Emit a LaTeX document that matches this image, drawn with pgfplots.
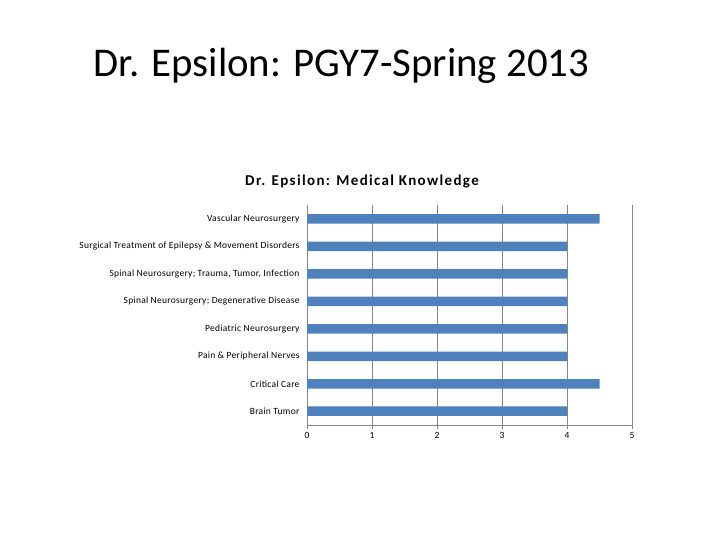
\documentclass[border=0pt]{standalone}
\usepackage{pgfplots}
\pgfplotsset{compat=1.18}
\usepackage{fontspec}
\setmainfont{Carlito}
\definecolor{barblue}{HTML}{4F81BD}
\definecolor{gridgray}{HTML}{868686}
\begin{document}
\begin{tikzpicture}
\useasboundingbox (0bp,0bp) rectangle (720bp,540bp);
\node[anchor=base, inner sep=0pt, font=\fontsize{40.8bp}{42bp}\selectfont] at (341.5bp,463bp) {Dr. Epsilon: PGY7-Spring 2013};
\node[anchor=base, inner sep=0pt, font=\fontsize{15bp}{17bp}\selectfont\bfseries\addfontfeature{LetterSpace=9}] at (362bp,354bp) {Dr. Epsilon: Medical Knowledge};
\begin{axis}[
    at={(307bp,115bp)}, anchor=south west,
    scale only axis, width=325bp, height=220bp,
    xbar, bar width=9.5bp,
    xmin=0, xmax=5, ymin=-0.5, ymax=7.5,
    axis x line*=bottom, axis y line*=left,
    axis line style={gridgray, line width=0.9bp, -},
    xtick={0,...,5},
    ytick={0,...,7},
    yticklabels={Brain Tumor, Critical Care, Pain \& Peripheral Nerves, Pediatric Neurosurgery, Spinal Neurosurgery; Degenerative Disease, {Spinal Neurosurgery; Trauma, Tumor, Infection}, Surgical Treatment of Epilepsy \& Movement Disorders, Vascular Neurosurgery},
    minor ytick={-0.5,0.5,...,7.5},
    tick align=outside,
    major tick length=4bp,
    y tick style={draw=none},
    minor tick length=4bp,
    minor tick style={gridgray, line width=0.9bp},
    x tick style={gridgray, line width=0.9bp},
    xmajorgrids,
    major grid style={gridgray, line width=0.9bp},
    xticklabel style={font=\fontsize{9.5bp}{10bp}\selectfont},
    yticklabel style={font=\fontsize{9.5bp}{10bp}\selectfont\addfontfeature{LetterSpace=3}},
    /pgf/number format/assume math mode=true,
  ]
  \addplot[fill=barblue, draw=none] coordinates {
    (4,0) (4.5,1) (4,2) (4,3) (4,4) (4,5) (4,6) (4.5,7)
  };
\end{axis}
\end{tikzpicture}
\end{document}
